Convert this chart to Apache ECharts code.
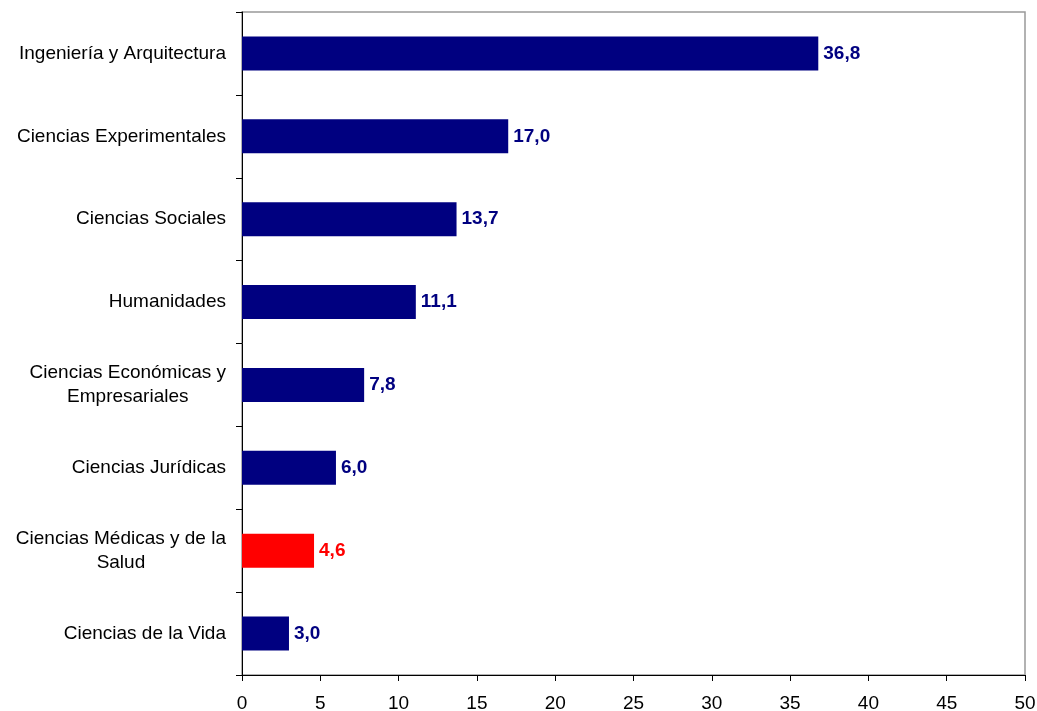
<!DOCTYPE html>
<html>
<head>
<meta charset="utf-8">
<script src="https://cdn.jsdelivr.net/npm/echarts@6/dist/echarts.min.js"></script>
<style>html,body{margin:0;padding:0;background:#fff}#c{width:1037px;height:711px}</style>
</head>
<body>
<div id="c"></div>
<script>
const categories = [
  "Ingeniería y Arquitectura",
  "Ciencias Experimentales",
  "Ciencias Sociales",
  "Humanidades",
  "Ciencias Económicas y\nEmpresariales",
  "Ciencias Jurídicas",
  "Ciencias Médicas y de la\nSalud",
  "Ciencias de la Vida"
];
const values = [36.8, 17.0, 13.7, 11.1, 7.8, 6.0, 4.6, 3.0];
const highlight = [false, false, false, false, false, false, true, false];
const xTicks = [0, 5, 10, 15, 20, 25, 30, 35, 40, 45, 50];

const NAVY = '#000080', RED = '#ff0000';
const FONT = '"Liberation Sans", Arial, sans-serif';
const FS = 19;

const chart = echarts.init(document.getElementById('c'), null, {renderer: 'canvas'});
chart.setOption({
  animation: false,
  grid: {left: 242, right: 12, top: 12, bottom: 36, containLabel: false, outerBoundsMode: 'none',
         show: true, borderColor: '#999999', borderWidth: 1.5, backgroundColor: 'transparent'},
  xAxis: {
    type: 'value', min: xTicks[0], max: xTicks[xTicks.length - 1], interval: 5,
    axisLine: {show: true, lineStyle: {color: '#000', width: 1}},
    axisTick: {show: true, inside: false, length: 6, lineStyle: {color: '#000'}},
    splitLine: {show: false},
    axisLabel: {color: '#000', fontFamily: FONT, fontSize: FS, margin: 19}
  },
  yAxis: {
    type: 'category', data: categories, inverse: true,
    axisLine: {show: true, lineStyle: {color: '#000', width: 1}},
    axisTick: {show: true, inside: false, length: 6, lineStyle: {color: '#000'}},
    splitLine: {show: false},
    axisLabel: {
      margin: 16, fontFamily: FONT, fontSize: FS, color: '#000', lineHeight: 24.5,
      formatter: function (v) { return v.split('\n').map(s => '{c|' + s + '}').join('\n'); },
      rich: {c: {align: 'center', fontFamily: FONT, fontSize: FS, color: '#000', lineHeight: 24.5}}
    }
  },
  series: [{
    type: 'bar', barWidth: 34,
    data: values.map((v, i) => ({
      value: v,
      itemStyle: {color: highlight[i] ? RED : NAVY},
      label: {color: highlight[i] ? RED : NAVY}
    })),
    label: {
      show: true, position: 'right', distance: 5,
      fontFamily: FONT, fontSize: FS, fontWeight: 'bold',
      formatter: p => p.value.toFixed(1).replace('.', ',')
    }
  }]
});
</script>
</body>
</html>
